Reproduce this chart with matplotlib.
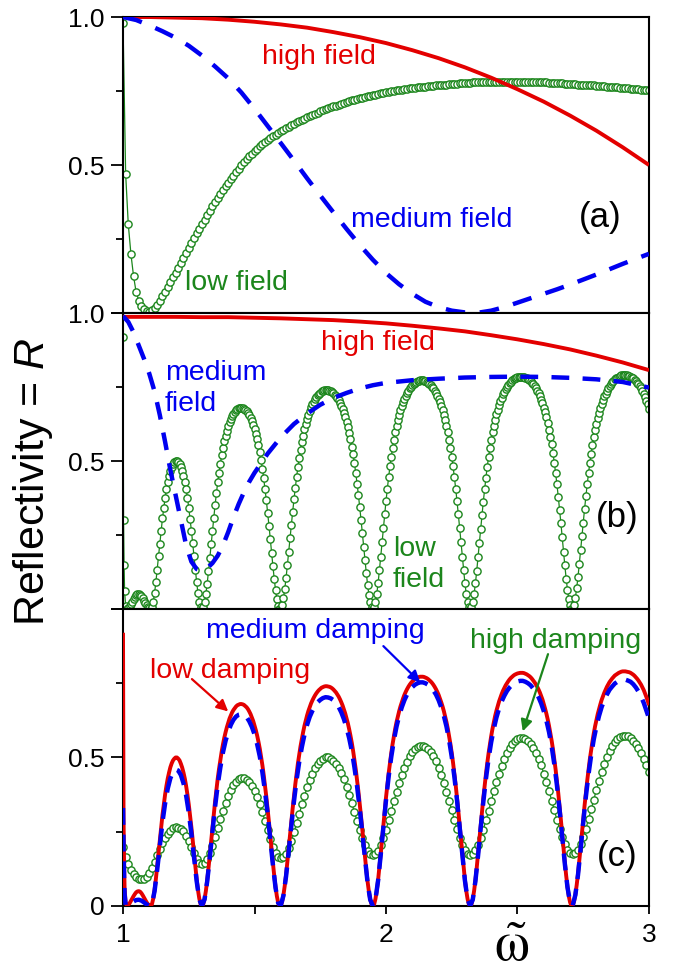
import numpy as np
import matplotlib
matplotlib.use("Agg")
import matplotlib.pyplot as plt

plt.rcParams["font.family"] = ["Liberation Sans", "DejaVu Sans"]
plt.rcParams["mathtext.fontset"] = "custom"
plt.rcParams["mathtext.rm"] = "Liberation Sans"
plt.rcParams["mathtext.it"] = "Liberation Sans:italic"

RED = "#e30000"
BLUE = "#0000f0"
GREEN = "#1c861c"

# ---------------- sampling positions (omega tilde) ----------------
w = np.round(np.arange(1.0, 3.0001, 0.01), 2)           # 1.00 ... 3.00
w_edge = [1.000, 1.002, 1.004, 1.006]                    # extra points at the left edge
w_coarse = np.concatenate([w_edge, w[1:]])
w_fine = np.concatenate([w_edge, np.round(np.arange(1.01, 3.0001, 0.005), 3)])
w_01 = np.round(np.arange(1.0, 3.0001, 0.1), 1)
w_005 = np.round(np.arange(1.0, 3.0001, 0.05), 2)
w_blue_b = [1.00, 1.02, 1.04, 1.06, 1.08, 1.10, 1.12, 1.14, 1.16, 1.18,
            1.20, 1.22, 1.24, 1.26, 1.28, 1.30, 1.32, 1.34, 1.36, 1.38,
            1.40, 1.42, 1.44, 1.46, 1.48, 1.50, 1.55, 1.60, 1.65, 1.70,
            1.75, 1.80, 1.85, 1.90, 1.95, 2.00, 2.10, 2.20, 2.30, 2.40,
            2.50, 2.60, 2.70, 2.80, 2.90, 3.00]

# ---------------- panel (a) ----------------
R_a_high = [1.000, 1.000, 0.998, 0.996, 0.991, 0.984, 0.975, 0.964, 0.949, 0.932,
            0.912, 0.888, 0.861, 0.830, 0.795, 0.756, 0.714, 0.667, 0.616, 0.560, 0.500]

R_a_medium = [1.000, 0.990, 0.972, 0.952, 0.930, 0.903, 0.870, 0.833, 0.793, 0.745,
              0.690, 0.632, 0.574, 0.515, 0.455, 0.397, 0.340, 0.284, 0.230, 0.180,
              0.135, 0.097, 0.065, 0.038, 0.020, 0.008, 0.002, 0.001, 0.008, 0.020,
              0.035, 0.050, 0.065, 0.080, 0.096, 0.113, 0.130, 0.148, 0.166, 0.183, 0.200]

R_a_low = [0.980,
           0.470, 0.300, 0.200, 0.125, 0.070, 0.042, 0.024, 0.013, 0.006, 0.004,
           0.009, 0.017, 0.028, 0.041, 0.056, 0.072, 0.088, 0.104, 0.120, 0.136,
           0.153, 0.170, 0.187, 0.204, 0.221, 0.237, 0.253, 0.269, 0.285, 0.300,
           0.315, 0.330, 0.345, 0.360, 0.375, 0.389, 0.402, 0.415, 0.428, 0.440,
           0.452, 0.464, 0.476, 0.488, 0.499, 0.509, 0.519, 0.529, 0.538, 0.547,
           0.555, 0.563, 0.571, 0.578, 0.585, 0.591, 0.597, 0.603, 0.609, 0.614,
           0.619, 0.624, 0.629, 0.634, 0.639, 0.644, 0.649, 0.653, 0.657, 0.661,
           0.665, 0.669, 0.673, 0.677, 0.681, 0.685, 0.689, 0.692, 0.695, 0.698,
           0.701, 0.704, 0.707, 0.710, 0.713, 0.716, 0.718, 0.721, 0.723, 0.726,
           0.728, 0.730, 0.732, 0.734, 0.736, 0.738, 0.740, 0.742, 0.744, 0.746,
           0.747, 0.749, 0.750, 0.752, 0.753, 0.755, 0.756, 0.758, 0.759, 0.760,
           0.761, 0.762, 0.763, 0.764, 0.765, 0.766, 0.767, 0.768, 0.769, 0.770,
           0.771, 0.772, 0.772, 0.773, 0.774, 0.775, 0.775, 0.776, 0.777, 0.777,
           0.778, 0.778, 0.779, 0.779, 0.780, 0.780, 0.780, 0.781, 0.781, 0.781,
           0.781, 0.782, 0.782, 0.782, 0.782, 0.782, 0.782, 0.782, 0.782, 0.782,
           0.782, 0.781, 0.781, 0.781, 0.781, 0.780, 0.780, 0.780, 0.779, 0.779,
           0.779, 0.778, 0.778, 0.777, 0.777, 0.776, 0.776, 0.775, 0.775, 0.774,
           0.774, 0.773, 0.772, 0.772, 0.771, 0.771, 0.770, 0.769, 0.769, 0.768,
           0.767, 0.767, 0.766, 0.765, 0.764, 0.764, 0.763, 0.762, 0.761, 0.761,
           0.760, 0.759, 0.758, 0.757, 0.757, 0.756, 0.755, 0.754, 0.753, 0.752]

# ---------------- panel (b) ----------------
R_b_high = [0.987, 0.987, 0.987, 0.986, 0.986, 0.984, 0.982, 0.979, 0.976, 0.971,
            0.965, 0.957, 0.948, 0.938, 0.925, 0.911, 0.895, 0.877, 0.856, 0.833, 0.807]

R_b_medium = [0.990, 0.970, 0.935, 0.890, 0.845, 0.795, 0.735, 0.655, 0.565, 0.470,
              0.385, 0.300, 0.215, 0.160, 0.135, 0.128, 0.138, 0.155, 0.180, 0.215,
              0.260, 0.310, 0.355, 0.395, 0.430, 0.460, 0.525, 0.580, 0.625, 0.660,
              0.690, 0.713, 0.730, 0.745, 0.756, 0.764, 0.773, 0.778, 0.782, 0.784,
              0.785, 0.784, 0.781, 0.776, 0.767, 0.748]

# low field (b) == low damping (c), on w_fine
R_low = [0.920, 0.300, 0.150, 0.060,
         0.010, 0.001, 0.004, 0.009, 0.017, 0.025, 0.033, 0.040, 0.046, 0.049,
         0.050, 0.048, 0.043, 0.036, 0.028, 0.020, 0.012, 0.006, 0.002, 0.000,
         0.006, 0.025, 0.054, 0.091, 0.133, 0.178, 0.221, 0.265, 0.306, 0.342,
         0.375, 0.404, 0.429, 0.449, 0.467, 0.480, 0.490, 0.496, 0.500, 0.500,
         0.496, 0.490, 0.479, 0.466, 0.449, 0.429, 0.404, 0.375, 0.342, 0.305,
         0.265, 0.222, 0.178, 0.133, 0.091, 0.054, 0.025, 0.006, 0.000, 0.006,
         0.023, 0.050, 0.086, 0.127, 0.172, 0.218, 0.263, 0.309, 0.351, 0.391,
         0.428, 0.461, 0.491, 0.519, 0.544, 0.566, 0.585, 0.602, 0.617, 0.631,
         0.642, 0.652, 0.660, 0.666, 0.672, 0.676, 0.678, 0.680, 0.680, 0.679,
         0.677, 0.673, 0.669, 0.663, 0.655, 0.646, 0.635, 0.623, 0.608, 0.592,
         0.574, 0.553, 0.530, 0.503, 0.474, 0.441, 0.405, 0.367, 0.326, 0.282,
         0.236, 0.190, 0.145, 0.102, 0.064, 0.033, 0.011, 0.001, 0.002, 0.014,
         0.037, 0.068, 0.105, 0.148, 0.193, 0.239, 0.284, 0.328, 0.370, 0.409,
         0.446, 0.480, 0.510, 0.538, 0.563, 0.586, 0.607, 0.625, 0.642, 0.657,
         0.670, 0.682, 0.692, 0.701, 0.709, 0.716, 0.722, 0.727, 0.731, 0.735,
         0.737, 0.739, 0.740, 0.740, 0.739, 0.738, 0.736, 0.733, 0.729, 0.724,
         0.719, 0.712, 0.705, 0.696, 0.686, 0.675, 0.662, 0.648, 0.632, 0.615,
         0.595, 0.573, 0.549, 0.522, 0.492, 0.460, 0.424, 0.386, 0.345, 0.302,
         0.257, 0.211, 0.165, 0.122, 0.082, 0.048, 0.022, 0.006, 0.000, 0.006,
         0.024, 0.052, 0.088, 0.131, 0.177, 0.225, 0.273, 0.320, 0.365, 0.407,
         0.446, 0.482, 0.515, 0.545, 0.572, 0.597, 0.619, 0.638, 0.656, 0.672,
         0.686, 0.699, 0.711, 0.721, 0.730, 0.738, 0.745, 0.751, 0.756, 0.760,
         0.764, 0.767, 0.769, 0.771, 0.772, 0.772, 0.772, 0.771, 0.769, 0.767,
         0.764, 0.760, 0.756, 0.751, 0.745, 0.738, 0.730, 0.721, 0.711, 0.699,
         0.686, 0.672, 0.656, 0.638, 0.619, 0.597, 0.572, 0.545, 0.515, 0.482,
         0.446, 0.407, 0.365, 0.320, 0.273, 0.225, 0.177, 0.131, 0.088, 0.052,
         0.024, 0.006, 0.000, 0.006, 0.023, 0.051, 0.087, 0.129, 0.175, 0.223,
         0.271, 0.318, 0.363, 0.405, 0.444, 0.481, 0.514, 0.544, 0.572, 0.597,
         0.619, 0.640, 0.658, 0.674, 0.689, 0.702, 0.714, 0.725, 0.734, 0.743,
         0.750, 0.757, 0.763, 0.768, 0.772, 0.776, 0.779, 0.781, 0.783, 0.784,
         0.785, 0.785, 0.785, 0.784, 0.782, 0.780, 0.777, 0.774, 0.770, 0.765,
         0.759, 0.753, 0.746, 0.738, 0.729, 0.719, 0.707, 0.695, 0.680, 0.664,
         0.647, 0.628, 0.606, 0.582, 0.556, 0.527, 0.494, 0.459, 0.421, 0.380,
         0.336, 0.290, 0.242, 0.194, 0.147, 0.103, 0.065, 0.033, 0.012, 0.001,
         0.002, 0.015, 0.038, 0.070, 0.108, 0.152, 0.198, 0.246, 0.292, 0.338,
         0.381, 0.421, 0.459, 0.494, 0.525, 0.554, 0.581, 0.605, 0.626, 0.646,
         0.663, 0.679, 0.694, 0.706, 0.718, 0.728, 0.738, 0.746, 0.754, 0.760,
         0.766, 0.771, 0.776, 0.779, 0.782, 0.785, 0.787, 0.789, 0.790, 0.790,
         0.790, 0.789, 0.788, 0.787, 0.785, 0.782, 0.779, 0.775, 0.770, 0.765,
         0.759, 0.752, 0.745, 0.736, 0.727, 0.716, 0.704, 0.691, 0.676]

# ---------------- panel (c) ----------------
R_c_medium = [0.330, 0.200, 0.100, 0.040,
              0.003, 0.002, 0.008, 0.015, 0.020, 0.021, 0.018, 0.012, 0.005, 0.001,
              0.006, 0.050, 0.122, 0.203, 0.282, 0.345, 0.395, 0.430, 0.451, 0.460,
              0.456, 0.441, 0.413, 0.372, 0.315, 0.244, 0.164, 0.084, 0.023, 0.000,
              0.022, 0.082, 0.163, 0.250, 0.333, 0.407, 0.466, 0.517, 0.556, 0.586,
              0.610, 0.627, 0.638, 0.644, 0.646, 0.643, 0.636, 0.622, 0.603, 0.578,
              0.545, 0.504, 0.450, 0.385, 0.310, 0.224, 0.138, 0.061, 0.010, 0.002,
              0.035, 0.100, 0.183, 0.270, 0.352, 0.424, 0.485, 0.535, 0.577, 0.610,
              0.637, 0.657, 0.674, 0.686, 0.694, 0.700, 0.703, 0.702, 0.699, 0.693,
              0.683, 0.670, 0.652, 0.629, 0.600, 0.565, 0.522, 0.467, 0.403, 0.328,
              0.244, 0.157, 0.078, 0.021, 0.000, 0.023, 0.086, 0.173, 0.266, 0.356,
              0.435, 0.502, 0.558, 0.604, 0.640, 0.669, 0.693, 0.712, 0.726, 0.737,
              0.745, 0.750, 0.753, 0.753, 0.750, 0.745, 0.737, 0.726, 0.712, 0.693,
              0.669, 0.640, 0.604, 0.558, 0.502, 0.435, 0.356, 0.266, 0.173, 0.086,
              0.023, 0.000, 0.022, 0.084, 0.169, 0.262, 0.350, 0.428, 0.496, 0.552,
              0.597, 0.635, 0.665, 0.689, 0.708, 0.724, 0.736, 0.745, 0.752, 0.756,
              0.758, 0.758, 0.755, 0.750, 0.743, 0.732, 0.720, 0.703, 0.682, 0.656,
              0.624, 0.585, 0.537, 0.477, 0.406, 0.324, 0.234, 0.142, 0.063, 0.012,
              0.002, 0.037, 0.104, 0.191, 0.282, 0.368, 0.443, 0.507, 0.561, 0.604,
              0.640, 0.670, 0.693, 0.712, 0.728, 0.739, 0.749, 0.755, 0.759, 0.762,
              0.762, 0.759, 0.755, 0.747, 0.736, 0.722, 0.705, 0.684, 0.658, 0.632]

R_c_high = [0.200,
            0.165, 0.140, 0.120, 0.106, 0.097, 0.092, 0.090, 0.090, 0.097, 0.110,
            0.128, 0.149, 0.171, 0.193, 0.213, 0.230, 0.244, 0.254, 0.261, 0.265,
            0.264, 0.260, 0.251, 0.237, 0.220, 0.200, 0.178, 0.159, 0.145, 0.140,
            0.144, 0.157, 0.177, 0.203, 0.232, 0.262, 0.292, 0.321, 0.347, 0.370,
            0.390, 0.406, 0.418, 0.426, 0.430, 0.430, 0.425, 0.417, 0.404, 0.388,
            0.367, 0.343, 0.315, 0.285, 0.255, 0.226, 0.199, 0.178, 0.165, 0.160,
            0.164, 0.176, 0.195, 0.219, 0.248, 0.279, 0.310, 0.342, 0.371, 0.399,
            0.424, 0.445, 0.463, 0.478, 0.489, 0.496, 0.500, 0.500, 0.496, 0.489,
            0.478, 0.464, 0.447, 0.426, 0.402, 0.375, 0.346, 0.316, 0.285, 0.255,
            0.228, 0.204, 0.186, 0.174, 0.170, 0.174, 0.186, 0.204, 0.228, 0.257,
            0.288, 0.320, 0.353, 0.385, 0.414, 0.441, 0.465, 0.486, 0.504, 0.518,
            0.529, 0.536, 0.540, 0.540, 0.536, 0.529, 0.518, 0.504, 0.487, 0.466,
            0.442, 0.415, 0.385, 0.354, 0.322, 0.289, 0.258, 0.230, 0.206, 0.188,
            0.176, 0.172, 0.176, 0.187, 0.205, 0.229, 0.257, 0.288, 0.320, 0.353,
            0.386, 0.417, 0.445, 0.472, 0.495, 0.516, 0.532, 0.546, 0.556, 0.563,
            0.567, 0.567, 0.563, 0.556, 0.546, 0.533, 0.516, 0.496, 0.473, 0.446,
            0.418, 0.387, 0.355, 0.322, 0.290, 0.259, 0.231, 0.208, 0.190, 0.179,
            0.175, 0.179, 0.190, 0.208, 0.232, 0.260, 0.292, 0.325, 0.358, 0.391,
            0.422, 0.451, 0.478, 0.502, 0.522, 0.539, 0.553, 0.563, 0.570, 0.574,
            0.574, 0.571, 0.565, 0.557, 0.546, 0.532, 0.515, 0.496, 0.474, 0.450]


def circles(ax, x, y):
    ax.plot(x, y, "-", color=GREEN, lw=0.9, marker="o", ms=5.2,
            mfc="white", mec=GREEN, mew=1.0, zorder=2)


def solid(ax, x, y):
    ax.plot(x, y, color=RED, lw=2.8, zorder=3, solid_capstyle="butt")


def dashed(ax, x, y, dashes):
    ax.plot(x, y, color=BLUE, lw=3.2, dashes=dashes, zorder=4)


fig = plt.figure(figsize=(6.8, 9.73), dpi=100)
left, width, height = 0.1809, 0.7735, 0.3042
ax_a = fig.add_axes([left, 0.6783, width, height])
ax_b = fig.add_axes([left, 0.3741, width, height])
ax_c = fig.add_axes([left, 0.0689, width, 0.3052])

for ax in (ax_a, ax_b, ax_c):
    ax.set_xlim(1, 3)
    ax.set_ylim(0, 1)
    ax.set_xticks([1, 2, 3])
    ax.set_xticks([1.5, 2.5], minor=True)
    ax.set_yticks([0, 0.5, 1])
    ax.set_yticks([0.25, 0.75], minor=True)
    ax.tick_params(which="both", direction="out", width=1.3, labelsize=19,
                   top=False, right=False, color="black")
    ax.tick_params(axis="y", which="major", length=8.5, pad=5)
    ax.tick_params(axis="y", which="minor", length=5)
    ax.tick_params(axis="x", which="both", length=5.5, pad=7)
    for s in ax.spines.values():
        s.set_linewidth(1.5)
    ax.set_xticklabels([])

ax_a.set_yticklabels(["", "0.5", "1.0"])
ax_b.set_yticklabels(["", "0.5", "1.0"])
ax_c.set_yticklabels(["0", "0.5", ""])
ax_c.set_xticklabels(["1", "2", "3"])

# (a)
circles(ax_a, w, R_a_low)
solid(ax_a, w_01, R_a_high)
dashed(ax_a, w_005, R_a_medium, (4.4, 3.3))
ax_a.text(1.745, 0.865, "high field", color=RED, fontsize=20.5, ha="center", va="center")
ax_a.text(2.175, 0.314, "medium field", color=BLUE, fontsize=20.5, ha="center", va="center")
ax_a.text(1.432, 0.10, "low field", color=GREEN, fontsize=20.5, ha="center", va="center")
ax_a.text(2.814, 0.324, "(a)", fontsize=25, ha="center", va="center")

# (b)
circles(ax_b, w_fine, R_low)
solid(ax_b, w_01, R_b_high)
dashed(ax_b, w_blue_b, R_b_medium, (4.0, 3.0))
ax_b.text(1.968, 0.90, "high field", color=RED, fontsize=20.5, ha="center", va="center")
ax_b.text(1.16, 0.745, "medium\nfield", color=BLUE, fontsize=20.5, ha="left", va="center",
          linespacing=1.25)
ax_b.text(2.027, 0.15, "low\nfield", color=GREEN, fontsize=20.5, ha="left", va="center",
          linespacing=1.25)
ax_b.text(2.88, 0.31, "(b)", fontsize=25, ha="center", va="center")

# (c)
circles(ax_c, w, R_c_high)
solid(ax_c, w_fine, R_low)
dashed(ax_c, w_coarse, R_c_medium, (3.8, 2.2))
ax_c.text(1.73, 0.926, "medium damping", color=BLUE, fontsize=20.5, ha="center", va="center")
ax_c.text(1.407, 0.79, "low damping", color=RED, fontsize=20.5, ha="center", va="center")
ax_c.text(2.646, 0.892, "high damping", color=GREEN, fontsize=20.5, ha="center", va="center")
ax_c.text(2.878, 0.166, "(c)", fontsize=25, ha="center", va="center")

arrow_kw = dict(arrowstyle="-|>", lw=1.6, mutation_scale=17, shrinkA=0, shrinkB=0)
ax_c.annotate("", xy=(1.40, 0.655), xytext=(1.262, 0.764),
              arrowprops=dict(color=RED, **arrow_kw))
ax_c.annotate("", xy=(2.13, 0.753), xytext=(1.99, 0.875),
              arrowprops=dict(color=BLUE, **arrow_kw))
ax_c.annotate("", xy=(2.52, 0.588), xytext=(2.616, 0.848),
              arrowprops=dict(color=GREEN, **arrow_kw))

fig.text(0.049, 0.505, "Reflectivity = $R$", rotation=90, fontsize=31,
         ha="center", va="center")
fig.text(0.752, 0.027, r"$\tilde{\mathrm{\omega}}$", math_fontfamily="stix",
         fontsize=40, ha="center", va="center")

fig.savefig("out.png", dpi=100)
